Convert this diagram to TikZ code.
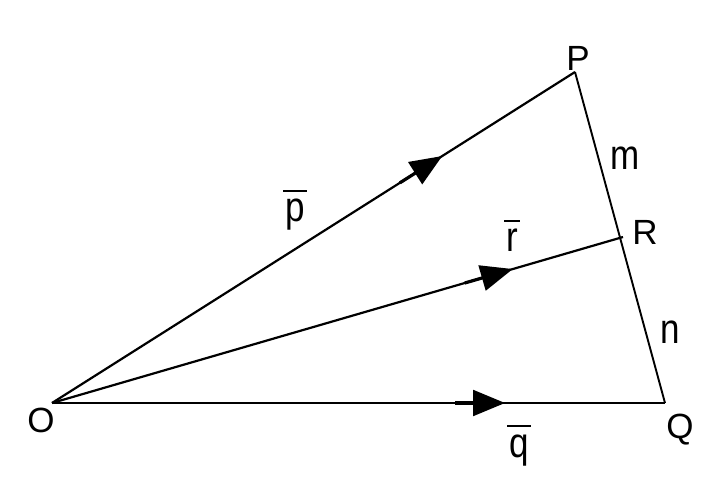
\documentclass[tikz,border=0pt]{standalone}
\usepackage{graphicx}
\usepackage{fontspec}
\setmainfont{Liberation Sans}
\usetikzlibrary{arrows.meta,decorations.markings}
\tikzset{
  vec/.style={line width=2.2pt},
  side/.style={line width=1.9pt},
  lbl/.style={font=\fontsize{35}{38}\selectfont, inner sep=0pt, anchor=base},
  midarrow/.style={postaction={decorate,decoration={markings,
    mark=at position #1 with {\draw[line width=3.2pt] (-50pt,0) -- (-20pt,0);
      \arrow{Triangle[length=32pt,width=26pt]}}}}}
}
\newcommand{\lc}[1]{\scalebox{1}[1.2]{#1}}
\newcommand{\barred}[1]{\setbox0\hbox{\lc{#1}}\rlap{\hskip-2pt\rule[30pt]{\dimexpr\wd0+4pt\relax}{1.8pt}}\box0}
\begin{document}
\begin{tikzpicture}[x=1pt,y=-1pt]
\useasboundingbox (0,0) rectangle (720,478);
\coordinate (O) at (52,403);
\coordinate (P) at (575,72);
\coordinate (Q) at (665,403);
\coordinate (R) at (623,237);
\draw[vec,midarrow=0.746] (O) -- (P);
\draw[vec,midarrow=0.807] (O) -- (R);
\draw[vec,midarrow=0.739] (O) -- (Q);
\draw[side,line join=miter] (P) -- (Q);
\node[lbl] (lO) at (41,432) {O};
\node[lbl] (lP) at (578,71) {P};
\node[lbl] (lQ) at (680,438) {Q};
\node[lbl] (lR) at (645,245) {R};
\node[lbl] (lm) at (625,170) {\lc{m}};
\node[lbl] (ln) at (670,343) {\lc{n}};
\node[lbl] (lp) at (295,222) {\barred{p}};
\node[lbl] (lr) at (512,252) {\barred{r}};
\node[lbl] (lq) at (519,457) {\barred{q}};
\end{tikzpicture}
\end{document}
